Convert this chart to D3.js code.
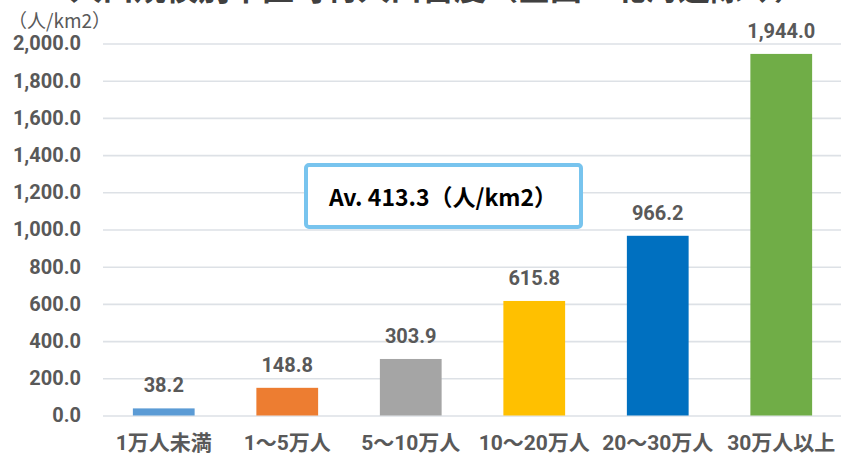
<!DOCTYPE html>
<html>
<head>
<meta charset="utf-8">
<script src="https://cdn.jsdelivr.net/npm/d3@7"></script>
<style>
  html, body { margin: 0; padding: 0; background: #fff; }
  svg { display: block; }
</style>
</head>
<body>
<svg id="chart" width="841" height="459"></svg>
<script>
// 人口規模別 市区町村の人口密度
const titleText = "人口規模別市区町村人口密度（全国※北海道除く）";
const unitLabel = "（人/km2）";
const categories = ["1万人未満", "1～5万人", "5～10万人", "10～20万人", "20～30万人", "30万人以上"];
const densities = [38.2, 148.8, 303.9, 615.8, 966.2, 1944.0];
const barColors = ["#5b9bd5", "#ed7d31", "#a5a5a5", "#ffc000", "#0070c0", "#70ad47"];
const yTicks = [0, 200, 400, 600, 800, 1000, 1200, 1400, 1600, 1800, 2000];
const averageValue = 413.3;

const svg = d3.select("#chart");
const numFont = "Roboto, 'Noto Sans CJK JP', sans-serif";
const cjkFont = "'Noto Sans CJK JP', Roboto, sans-serif";
const textGray = "#595959";

const x = d3.scaleBand().domain(categories).range([102, 843]).paddingInner(0.5).paddingOuter(0.25);
const y = d3.scaleLinear().domain([0, 2000]).range([415.5, 43.5]);
const fmt = d3.format(",.1f");

// title (runs off the top of the canvas)
svg.append("text")
  .attr("x", 70).attr("y", 0)
  .attr("font-family", cjkFont).attr("font-size", 32).attr("font-weight", 700)
  .attr("fill", "#404040")
  .text(titleText);

// unit
svg.append("text")
  .attr("x", 8).attr("y", 21).attr("dy", "0.35em")
  .attr("font-family", cjkFont).attr("font-size", 19)
  .attr("fill", textGray)
  .text(unitLabel);

// gridlines
const yGrid = d3.axisLeft(y).tickValues(yTicks).tickSize(-(843 - 103)).tickFormat("");
svg.append("g").attr("transform", "translate(103,0)").call(yGrid)
  .call(g => g.select(".domain").remove())
  .call(g => g.selectAll("line").attr("stroke", "#dde1e6").attr("stroke-width", 1.6));

// y tick labels
const yAxis = d3.axisLeft(y).tickValues(yTicks).tickSize(0).tickPadding(0).tickFormat(fmt);
svg.append("g").attr("transform", "translate(81,0)").call(yAxis)
  .call(g => g.select(".domain").remove())
  .call(g => g.selectAll("text")
    .attr("font-family", numFont).attr("font-size", 20).attr("font-weight", 700)
    .attr("fill", textGray));

// bars
svg.append("g").selectAll("rect").data(densities).join("rect")
  .attr("x", (d, i) => x(categories[i]))
  .attr("width", x.bandwidth())
  .attr("y", d => y(d))
  .attr("height", d => y(0) - y(d))
  .attr("fill", (d, i) => barColors[i]);

// value labels
svg.append("g").selectAll("text").data(densities).join("text")
  .attr("x", (d, i) => x(categories[i]) + x.bandwidth() / 2)
  .attr("y", d => y(d) - 23)
  .attr("dy", "0.35em")
  .attr("text-anchor", "middle")
  .attr("font-family", numFont).attr("font-size", 20).attr("font-weight", 700)
  .attr("fill", textGray)
  .text(d => fmt(d));

// category labels
const xAxis = d3.axisBottom(x).tickSize(0).tickPadding(0);
svg.append("g").attr("transform", "translate(0,443)").call(xAxis)
  .call(g => g.select(".domain").remove())
  .call(g => g.selectAll("text")
    .attr("dy", "0.35em").attr("y", 0)
    .attr("font-family", numFont).attr("font-size", 21).attr("font-weight", 700)
    .attr("fill", textGray));

// average callout
const box = svg.append("g");
box.append("rect")
  .attr("x", 306).attr("y", 165).attr("width", 275).attr("height", 62)
  .attr("rx", 3)
  .attr("fill", "#ffffff").attr("stroke", "#78c4ee").attr("stroke-width", 4);
box.append("text")
  .attr("x", 443).attr("y", 198).attr("dy", "0.35em")
  .attr("text-anchor", "middle")
  .attr("font-family", cjkFont).attr("font-size", 23).attr("font-weight", 700)
  .attr("fill", "#000")
  .text(`Av. ${averageValue}（人/km2）`);
</script>
</body>
</html>
